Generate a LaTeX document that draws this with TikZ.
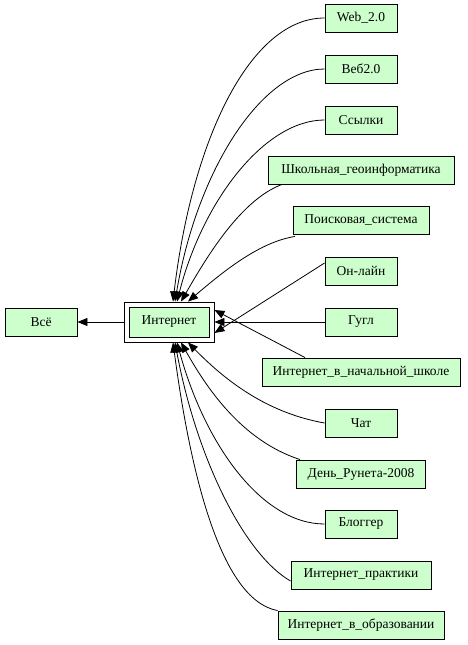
\documentclass[tikz,border=0pt]{standalone}
\usepackage{fontspec}
\setmainfont{Liberation Serif}
\usetikzlibrary{arrows.meta,calc}
\definecolor{nodegreen}{HTML}{CCFFCC}
\begin{document}
\begin{tikzpicture}[x=1pt,y=-1pt,
  nbox/.style={draw=black,fill=nodegreen,line width=0.9pt,minimum width=72pt,minimum height=28pt,inner sep=0pt,font=\fontsize{13.5}{15}\selectfont},
  outerbox/.style={draw=black,fill=white,line width=0.9pt,minimum width=90pt,minimum height=40pt,inner sep=0pt},
  edge/.style={line width=0.8pt,-{Triangle[length=10pt,width=8pt]}}]
\useasboundingbox (0,0) rectangle (467,645);
\fill[white] (0,0) rectangle (467,645);
% central nodes
\node[nbox] (vse) at (41,322) {Всё};
\node[outerbox] (intO) at (169,322) {};
\node[nbox,minimum width=80pt,minimum height=30pt] (int) at (169,322) {Интернет};
% right column
\node[nbox] (web) at (361,18) {Web\_2.0};
\node[nbox] (veb) at (361,69) {Веб2.0};
\node[nbox] (ssy) at (361,120) {Ссылки};
\node[nbox,minimum width=186pt] (shk) at (361,170) {Школьная\_геоинформатика};
\node[nbox,minimum width=136pt] (poi) at (361,220) {Поисковая\_система};
\node[nbox] (onl) at (361,271) {Он-лайн};
\node[nbox] (gug) at (361,322) {Гугл};
\node[nbox,minimum width=198pt] (inach) at (361,372) {Интернет\_в\_начальной\_школе};
\node[nbox] (chat) at (361,423) {Чат};
\node[nbox,minimum width=129pt] (den) at (361,474) {День\_Рунета-2008};
\node[nbox] (blog) at (361,524) {Блоггер};
\node[nbox,minimum width=140pt] (ipr) at (361,575) {Интернет\_практики};
\node[nbox,minimum width=166pt] (iobr) at (361,625) {Интернет\_в\_образовании};
% edges
\draw[edge] (intO.west) -- (vse.east);
\draw[edge] (web.west) .. controls (250,18) and (192,140) .. ([xshift=4pt]intO.north);
\draw[edge] (veb.west) .. controls (262,69) and (197,170) .. ([xshift=6pt]intO.north);
\draw[edge] (ssy.west) .. controls (265,120) and (203,200) .. ([xshift=8pt]intO.north);
\draw[edge] ([xshift=-79pt]shk.south) .. controls (240,200) and (205,260) .. ([xshift=12pt]intO.north);
\draw[edge] ([xshift=-66pt,yshift=-2pt]poi.south) .. controls (260,242) and (225,270) .. ([xshift=19pt]intO.north);
\draw[edge] ([yshift=8pt]onl.west) -- ([yshift=-11pt]intO.east);
\draw[edge] (gug.west) -- (intO.east);
\draw[edge] ([xshift=-56pt]inach.north) -- ([yshift=12pt]intO.east);
\draw[edge] (chat.west) .. controls (262,412) and (220,375) .. ([xshift=19pt]intO.south);
\draw[edge] ([xshift=-61pt]den.north) .. controls (240,440) and (205,385) .. ([xshift=12pt]intO.south);
\draw[edge] (blog.west) .. controls (262,524) and (205,445) .. ([xshift=8pt]intO.south);
\draw[edge] ([yshift=-6pt]ipr.west) .. controls (245,555) and (197,460) .. ([xshift=6pt]intO.south);
\draw[edge] (iobr.north west) .. controls (220,600) and (190,470) .. ([xshift=4pt]intO.south);
\end{tikzpicture}
\end{document}
